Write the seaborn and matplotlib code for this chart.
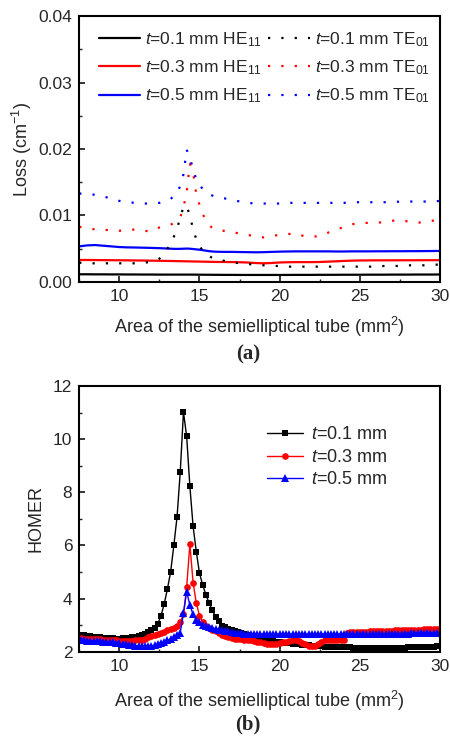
import numpy as np
import matplotlib
matplotlib.use("Agg")
import matplotlib.pyplot as plt
import seaborn as sns
from matplotlib.ticker import MultipleLocator, FormatStrFormatter

# ---------------- data: (a) Loss ----------------
x_loss = [7.5, 8.0, 8.5, 9.0, 9.5, 10.0, 10.5, 11.0, 11.5, 12.0,
          12.5, 13.0, 13.2, 13.4, 13.6, 13.8, 14.0, 14.2, 14.4, 14.6,
          14.8, 15.0, 15.2, 15.4, 15.6, 15.8, 16.0, 16.5, 17.0, 17.5,
          18.0, 18.5, 19.0, 19.5, 20.0, 20.5, 21.0, 21.5, 22.0, 22.5,
          23.0, 23.5, 24.0, 24.5, 25.0, 25.5, 26.0, 26.5, 27.0, 27.5,
          28.0, 28.5, 29.0, 29.5, 30.0]

he11_t01 = [0.00115, 0.00115, 0.00114, 0.00114, 0.00113, 0.00113, 0.00112, 0.00112, 0.00111, 0.00111,
            0.00110, 0.00110, 0.00110, 0.00110, 0.00110, 0.00110, 0.00110, 0.00110, 0.00110, 0.00110,
            0.00109, 0.00109, 0.00108, 0.00108, 0.00108, 0.00107, 0.00107, 0.00106, 0.00106, 0.00105,
            0.00105, 0.00105, 0.00105, 0.00105, 0.00105, 0.00105, 0.00106, 0.00106, 0.00106, 0.00107,
            0.00107, 0.00107, 0.00108, 0.00108, 0.00108, 0.00109, 0.00109, 0.00109, 0.00110, 0.00110,
            0.00110, 0.00111, 0.00111, 0.00111, 0.00112]
he11_t03 = [0.00330, 0.00330, 0.00329, 0.00328, 0.00327, 0.00326, 0.00325, 0.00323, 0.00322, 0.00320,
            0.00318, 0.00316, 0.00315, 0.00314, 0.00313, 0.00312, 0.00311, 0.00310, 0.00309, 0.00308,
            0.00307, 0.00306, 0.00305, 0.00304, 0.00303, 0.00302, 0.00301, 0.00300, 0.00299, 0.00296,
            0.00292, 0.00284, 0.00280, 0.00285, 0.00293, 0.00296, 0.00298, 0.00298, 0.00298, 0.00300,
            0.00305, 0.00310, 0.00316, 0.00320, 0.00323, 0.00324, 0.00325, 0.00325, 0.00325, 0.00326,
            0.00326, 0.00326, 0.00327, 0.00327, 0.00327]
he11_t05 = [0.00535, 0.00550, 0.00555, 0.00545, 0.00535, 0.00525, 0.00520, 0.00518, 0.00515, 0.00512,
            0.00508, 0.00503, 0.00500, 0.00498, 0.00497, 0.00498, 0.00500, 0.00502, 0.00500, 0.00495,
            0.00490, 0.00485, 0.00478, 0.00470, 0.00463, 0.00458, 0.00455, 0.00452, 0.00452, 0.00450,
            0.00448, 0.00446, 0.00448, 0.00452, 0.00456, 0.00458, 0.00460, 0.00460, 0.00460, 0.00460,
            0.00460, 0.00458, 0.00458, 0.00460, 0.00460, 0.00460, 0.00461, 0.00461, 0.00462, 0.00462,
            0.00463, 0.00463, 0.00464, 0.00465, 0.00467]
te01_t01 = [0.0029, 0.0028, 0.0028, 0.0028, 0.0028, 0.0028, 0.0028, 0.0028, 0.0029, 0.0030,
            0.0035, 0.0050, 0.0058, 0.0068, 0.0080, 0.0097, 0.0113, 0.0115, 0.0099, 0.0080,
            0.0064, 0.0054, 0.0047, 0.0042, 0.0039, 0.0036, 0.0034, 0.0032, 0.0030, 0.0028,
            0.0027, 0.0026, 0.0025, 0.0024, 0.0024, 0.0023, 0.0023, 0.0023, 0.0023, 0.0023,
            0.0023, 0.0023, 0.0023, 0.0023, 0.0023, 0.0023, 0.0023, 0.0024, 0.0024, 0.0024,
            0.0025, 0.0025, 0.0025, 0.0026, 0.0026]
te01_t03 = [0.0083, 0.0081, 0.0079, 0.0079, 0.0077, 0.0077, 0.0078, 0.0079, 0.0077, 0.0076,
            0.0082, 0.0085, 0.0086, 0.0089, 0.0093, 0.0097, 0.0112, 0.0135, 0.0178, 0.0165,
            0.0132, 0.0116, 0.0102, 0.0093, 0.0086, 0.0081, 0.0079, 0.0077, 0.0075, 0.0073,
            0.0071, 0.0068, 0.0067, 0.0069, 0.0071, 0.0072, 0.0073, 0.0069, 0.0068, 0.0069,
            0.0074, 0.0078, 0.0083, 0.0087, 0.0088, 0.0089, 0.0089, 0.0090, 0.0092, 0.0093,
            0.0091, 0.0089, 0.0090, 0.0092, 0.0094]
te01_t05 = [0.0133, 0.0133, 0.0131, 0.0129, 0.0125, 0.0122, 0.0120, 0.0119, 0.0118, 0.0118,
            0.0119, 0.0123, 0.0125, 0.0129, 0.0133, 0.0145, 0.0162, 0.0199, 0.0187, 0.0170,
            0.0154, 0.0146, 0.0140, 0.0136, 0.0132, 0.0130, 0.0128, 0.0126, 0.0124, 0.0121,
            0.0119, 0.0118, 0.0118, 0.0118, 0.0118, 0.0119, 0.0119, 0.0119, 0.0119, 0.0119,
            0.0119, 0.0119, 0.0119, 0.0120, 0.0120, 0.0120, 0.0120, 0.0120, 0.0120, 0.0121,
            0.0121, 0.0121, 0.0121, 0.0121, 0.0122]

# ---------------- data: (b) HOMER ----------------
x_homer = np.round(np.arange(7.6, 30.001, 0.2), 1)

homer_t01 = [2.62, 2.61, 2.59, 2.58, 2.56, 2.55, 2.54, 2.52, 2.51, 2.50,
             2.50, 2.49, 2.49, 2.50, 2.51, 2.53, 2.55, 2.57, 2.60, 2.63,
             2.67, 2.73, 2.80, 2.90, 3.05, 3.35, 3.80, 4.36, 5.00, 6.00,
             7.07, 8.76, 11.02, 10.10, 8.22, 6.72, 5.76, 4.95, 4.51, 4.14,
             3.83, 3.55, 3.32, 3.14, 2.98, 2.91, 2.86, 2.81, 2.77, 2.73,
             2.69, 2.65, 2.62, 2.58, 2.55, 2.52, 2.49, 2.46, 2.44, 2.42,
             2.40, 2.38, 2.36, 2.34, 2.33, 2.31, 2.30, 2.28, 2.27, 2.26,
             2.25, 2.24, 2.23, 2.22, 2.21, 2.20, 2.19, 2.19, 2.18, 2.18,
             2.17, 2.17, 2.16, 2.16, 2.16, 2.15, 2.15, 2.15, 2.14, 2.14,
             2.14, 2.14, 2.14, 2.14, 2.14, 2.14, 2.14, 2.14, 2.14, 2.15,
             2.15, 2.15, 2.16, 2.16, 2.16, 2.17, 2.17, 2.18, 2.18, 2.19,
             2.19, 2.20, 2.20]
homer_t03 = [2.50, 2.49, 2.49, 2.48, 2.47, 2.47, 2.46, 2.45, 2.45, 2.44,
             2.43, 2.42, 2.41, 2.41, 2.41, 2.41, 2.41, 2.42, 2.43, 2.44,
             2.47, 2.55, 2.60, 2.63, 2.67, 2.71, 2.75, 2.80, 2.85, 2.90,
             2.97, 3.10, 3.40, 4.43, 6.05, 4.60, 3.83, 3.35, 3.12, 2.98,
             2.90, 2.82, 2.76, 2.70, 2.64, 2.60, 2.55, 2.52, 2.49, 2.47,
             2.46, 2.45, 2.44, 2.42, 2.40, 2.38, 2.35, 2.32, 2.30, 2.27,
             2.27, 2.30, 2.33, 2.36, 2.38, 2.40, 2.42, 2.42, 2.39, 2.32,
             2.27, 2.22, 2.20, 2.20, 2.28, 2.38, 2.43, 2.45, 2.45, 2.45,
             2.45, 2.45, 2.45, 2.72, 2.73, 2.73, 2.74, 2.74, 2.75, 2.75,
             2.76, 2.76, 2.77, 2.77, 2.78, 2.78, 2.79, 2.79, 2.80, 2.80,
             2.81, 2.81, 2.82, 2.82, 2.82, 2.83, 2.83, 2.84, 2.84, 2.85,
             2.85, 2.85, 2.86]
homer_t05 = [2.42, 2.42, 2.41, 2.41, 2.40, 2.40, 2.39, 2.38, 2.37, 2.36,
             2.35, 2.33, 2.31, 2.29, 2.27, 2.26, 2.24, 2.23, 2.22, 2.21,
             2.21, 2.21, 2.22, 2.24, 2.27, 2.31, 2.36, 2.42, 2.48, 2.55,
             2.63, 2.72, 3.45, 4.26, 3.75, 3.40, 3.20, 3.10, 3.02, 2.97,
             2.93, 2.89, 2.86, 2.83, 2.80, 2.78, 2.76, 2.74, 2.72, 2.70,
             2.69, 2.68, 2.67, 2.66, 2.66, 2.66, 2.66, 2.66, 2.66, 2.66,
             2.66, 2.66, 2.66, 2.66, 2.66, 2.66, 2.66, 2.66, 2.66, 2.66,
             2.66, 2.66, 2.66, 2.66, 2.66, 2.66, 2.66, 2.66, 2.66, 2.66,
             2.66, 2.66, 2.65, 2.65, 2.65, 2.65, 2.66, 2.66, 2.66, 2.66,
             2.66, 2.66, 2.67, 2.67, 2.67, 2.67, 2.67, 2.68, 2.68, 2.68,
             2.68, 2.68, 2.68, 2.69, 2.69, 2.69, 2.69, 2.69, 2.70, 2.70,
             2.70, 2.70, 2.71]

loss_labels_he = [r"$\it{t}$=0.1 mm HE$_{11}$", r"$\it{t}$=0.3 mm HE$_{11}$", r"$\it{t}$=0.5 mm HE$_{11}$"]
loss_labels_te = [r"$\it{t}$=0.1 mm TE$_{01}$", r"$\it{t}$=0.3 mm TE$_{01}$", r"$\it{t}$=0.5 mm TE$_{01}$"]
homer_labels = [r"$\it{t}$=0.1 mm", r"$\it{t}$=0.3 mm", r"$\it{t}$=0.5 mm"]
colors = ["#000000", "#ff0000", "#0000ff"]
markers = ["s", "o", "^"]

# ---------------- style ----------------
sns.set_style("ticks")
plt.rcParams["font.family"] = ["Liberation Sans", "DejaVu Sans"]
plt.rcParams["mathtext.fontset"] = "custom"
plt.rcParams["mathtext.rm"] = "Liberation Sans"
plt.rcParams["mathtext.it"] = "Liberation Sans:italic"
plt.rcParams["mathtext.bf"] = "Liberation Sans:bold"
plt.rcParams["font.size"] = 12

fig = plt.figure(figsize=(4.5, 7.38), dpi=100)
ax1 = fig.add_axes([0.176, 0.618, 0.802, 0.360])
ax2 = fig.add_axes([0.176, 0.117, 0.802, 0.360])

def style_axes(ax):
    for s in ax.spines.values():
        s.set_linewidth(1.5)
        s.set_color("black")
    ax.tick_params(which="major", direction="in", length=4.5, width=1.3,
                   labelsize=12.5, top=False, right=False, pad=5)
    ax.tick_params(which="minor", direction="in", length=2.5, width=1.0,
                   top=False, right=False)

# (a)
he_series = [he11_t01, he11_t03, he11_t05]
te_series = [te01_t01, te01_t03, te01_t05]
for vals, c, lab in zip(he_series, colors, loss_labels_he):
    sns.lineplot(x=x_loss, y=vals, ax=ax1, color=c, linewidth=1.6,
                 label=lab, estimator=None, sort=False)
for vals, c, lab in zip(te_series, colors, loss_labels_te):
    sns.lineplot(x=x_loss, y=vals, ax=ax1, color=c, linewidth=1.6,
                 linestyle=(0, (1, 5)), label=lab, estimator=None, sort=False)
ax1.set_xlim(7.5, 30)
ax1.set_ylim(0, 0.04)
ax1.xaxis.set_major_locator(MultipleLocator(5))
ax1.xaxis.set_minor_locator(MultipleLocator(2.5))
ax1.yaxis.set_major_locator(MultipleLocator(0.01))
ax1.yaxis.set_minor_locator(MultipleLocator(0.005))
ax1.yaxis.set_major_formatter(FormatStrFormatter("%.2f"))
ax1.set_xlabel(r"Area of the semielliptical tube (mm$^2$)", fontsize=13, labelpad=8)
ax1.set_ylabel(r"Loss (cm$^{-1}$)", fontsize=13, labelpad=3)
style_axes(ax1)
ax1.legend(loc="upper left", bbox_to_anchor=(0.015, 1.0), ncol=2, frameon=False,
           fontsize=12.5, handlelength=2.4, handletextpad=0.3, columnspacing=0.35,
           labelspacing=0.55, borderaxespad=0.4)

# (b)
homer_series = [homer_t01, homer_t03, homer_t05]
msizes = [4.4, 4.8, 5.4]
for vals, c, m, ms, lab in zip(homer_series, colors, markers, msizes, homer_labels):
    sns.lineplot(x=x_homer, y=vals, ax=ax2, color=c, linewidth=1.0, marker=m,
                 markersize=ms, markeredgewidth=0, label=lab,
                 estimator=None, sort=False)
ax2.set_xlim(7.5, 30)
ax2.set_ylim(2, 12)
ax2.xaxis.set_major_locator(MultipleLocator(5))
ax2.xaxis.set_minor_locator(MultipleLocator(2.5))
ax2.yaxis.set_major_locator(MultipleLocator(2))
ax2.yaxis.set_minor_locator(MultipleLocator(1))
ax2.set_xlabel(r"Area of the semielliptical tube (mm$^2$)", fontsize=13, labelpad=11)
ax2.set_ylabel("HOMER", fontsize=13, labelpad=6)
style_axes(ax2)
ax2.legend(loc="upper left", bbox_to_anchor=(0.5, 0.875), frameon=False,
           fontsize=13, handlelength=2.0, handletextpad=0.45,
           labelspacing=0.3, borderaxespad=0.0)

fig.text(0.551, 0.520, "(a)", ha="center", va="center", fontsize=15,
         fontweight="bold", family=["Liberation Serif", "DejaVu Serif"])
fig.text(0.551, 0.018, "(b)", ha="center", va="center", fontsize=15,
         fontweight="bold", family=["Liberation Serif", "DejaVu Serif"])

fig.savefig("out.png", dpi=100)
